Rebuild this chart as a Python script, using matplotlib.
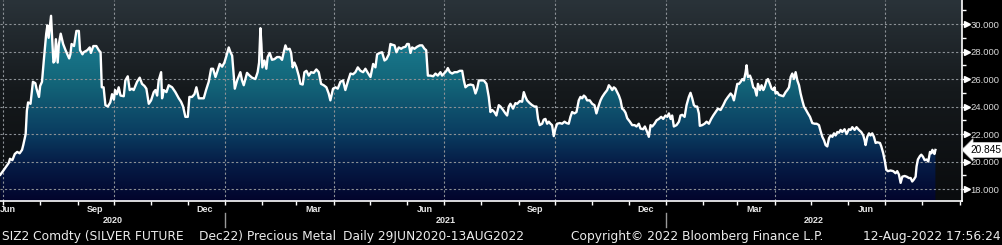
import numpy as np
import matplotlib
matplotlib.use("Agg")
import matplotlib.pyplot as plt
import matplotlib.dates as mdates
import pandas as pd
from matplotlib.colors import LinearSegmentedColormap
from matplotlib.patches import Polygon
from matplotlib.transforms import blended_transform_factory, ScaledTranslation
from matplotlib.lines import Line2D

# ---------------- data (days since 2020-06-29, price) ----------------
start_date = "2020-06-29"
days_a = [0, 3, 7, 8, 10, 12, 14, 16, 18, 19, 21, 22, 23, 25, 27, 29, 30, 32, 33, 34.5,
          36, 38, 39, 40, 42, 43, 44, 45, 46, 47.5, 48.5, 50, 52, 54, 57, 58, 59, 61, 63, 65,
          66, 68, 69, 72, 74, 75, 77, 79.5, 81.5, 83, 84, 85.5, 87, 89, 91, 92.5, 94, 95, 96.5, 98, 99.5]
price_a = [19.04, 19.4, 19.9, 20.2, 20.1, 20.55, 20.7, 20.6, 20.85, 21.2, 22.0, 23.7, 24.3, 24.2, 25.8, 25.7, 25.3, 24.7, 25.5, 25.8,
           27.35, 29.3, 29.9, 29.0, 30.6, 28.8, 27.2, 27.3, 28.9, 27.2, 28.55, 29.3, 28.55, 28.1, 27.5, 27.8, 28.55, 28.4, 29.5, 29.5,
           28.1, 27.8, 27.95, 28.1, 28.3, 27.9, 28.4, 28.4, 28.1, 27.95, 25.4, 25.4, 24.1, 24.0, 24.3, 24.9, 24.5, 25.2, 24.9, 25.4, 24.8]
days_b = [102.2, 103.5, 105.5, 107.1, 109, 110.4, 113.2, 115.4, 117.3, 119.3, 120.9, 122.9, 124.8, 127, 128.4, 129.8, 131.1, 133.1, 133.9, 135.3,
          137.5, 139.4, 142.2, 144.9, 147.7, 149.6, 151.3, 153.2, 155.2, 156.5, 158.7, 160.7, 162.3, 164.3, 165.6, 168.4, 170.3, 172.5, 174.5, 176.1,
          178.1, 180, 181.6, 183.6, 185.5, 187.2, 189.1, 190.5, 191.9, 194.1, 196]
price_b = [24.75, 25.9, 26.2, 25.2, 25.3, 25.2, 25.8, 26.1, 25.65, 25.5, 25.3, 24.2, 24.45, 25.05, 25.2, 24.8, 25.9, 26.5, 24.6, 25.2,
           25.05, 25.55, 25.4, 25.05, 24.6, 24.35, 24.0, 23.25, 23.25, 24.7, 24.7, 24.9, 25.4, 24.6, 24.6, 24.6, 25.2, 25.8, 26.75, 26.75,
           26.15, 26.65, 27.1, 26.9, 27.2, 27.7, 28.3, 27.95, 27.7, 25.3, 25.9]
days_c = [198.7, 200.1, 201.5, 204.2, 206.4, 208.4, 211.1, 213, 214.2, 215.3, 216.1, 216.9, 218.6, 220.2, 221.3, 223, 224.9, 226.9, 229.1, 231.3,
          233.2, 234.6, 236, 237.3, 239.5, 240.7, 242, 243.4, 245.1, 247, 248.4, 250.3, 251.7, 253.4, 255.3, 257.2, 259.4, 261.6, 263.6, 265.5,
          267.7, 269.9, 271.8, 273.2, 275.4, 277.4, 279.3, 281.5, 283.7, 285.6, 287.6, 289.8, 292, 293.9, 295.9]
price_c = [26.5, 25.9, 25.55, 26.45, 26.25, 26.1, 26.0, 26.5, 27.2, 29.7, 28.55, 26.85, 27.35, 26.75, 27.6, 27.9, 27.4, 27.45, 27.6, 27.6,
           27.4, 27.95, 28.45, 28.15, 28.2, 27.9, 26.85, 27.2, 26.85, 26.25, 25.65, 25.6, 26.5, 26.6, 26.25, 26.5, 26.45, 26.7, 26.5, 25.65,
           25.55, 25.4, 24.95, 24.45, 25.3, 25.4, 25.3, 25.8, 25.9, 25.2, 25.8, 26.4, 26.35, 26.5, 26.85]
days_d = [298.1, 300.3, 302.2, 304.2, 306.4, 308.6, 310.5, 311.9, 314.1, 316, 318, 319.6, 321.6, 322.9, 324.3, 326.3, 327.9, 329.8, 331.8, 333.4,
          335.4, 336.7, 338.1, 339.5, 340.9, 342.8, 345, 347.2, 349.2, 351.1, 352.5, 353.9, 356.1, 358.3, 360.2, 362.1, 364.3, 365.7, 367.7, 369.3,
          370.4, 372.1, 374, 375.9, 378.1, 380.3, 382.3, 383.7, 385, 387, 389.2, 391.4, 393.3, 394.7, 396.1]
price_d = [26.6, 26.5, 26.75, 26.45, 26.15, 27.1, 26.85, 27.8, 27.9, 27.95, 27.35, 27.45, 27.8, 28.55, 28.5, 28.45, 27.95, 28.3, 28.2, 28.3,
           28.35, 28.55, 28.55, 27.9, 28.3, 28.2, 28.35, 28.45, 28.45, 28.2, 28.1, 26.25, 26.25, 26.2, 26.4, 26.25, 26.5, 26.25, 26.45, 26.6,
           26.8, 26.5, 26.4, 26.5, 26.5, 26.6, 26.6, 25.9, 25.4, 25.55, 25.6, 25.55, 24.95, 25.3, 25.9]
days_e = [397.4, 400.2, 402.4, 404.3, 405.7, 407.1, 409, 410.6, 412.6, 414, 416.2, 418.1, 419.5, 420.9, 422.2, 424.4, 426.4, 427.8, 430, 431.9,
          433.3, 434.7, 436, 438.2, 440.2, 442.1, 443.8, 445.1, 446.5, 448.5, 449.8, 451.2, 452.6, 454, 455.4, 456.7, 458.1, 459.5, 460.9, 463.1,
          465, 467, 468.6, 470.5, 471.9, 473.3, 475.2, 476.9, 478.8, 480.2, 481.6, 483, 484.3, 485.7, 487.9, 489.9, 491.8, 493.4, 495.4]
price_e = [25.9, 25.9, 25.65, 24.7, 23.6, 23.75, 23.6, 23.35, 24.1, 24.0, 23.75, 23.5, 23.35, 24.0, 24.2, 23.85, 24.25, 24.2, 24.4, 24.35,
           25.05, 24.7, 24.45, 24.25, 24.1, 24.0, 24.0, 23.1, 22.65, 22.75, 23.05, 23.1, 22.75, 22.9, 22.75, 22.65, 21.85, 22.4, 22.75, 22.8,
           22.75, 22.9, 22.8, 22.75, 23.25, 23.6, 23.5, 23.6, 24.45, 24.7, 24.6, 24.8, 24.7, 24.45, 24.45, 24.2, 24.1, 23.5, 24.1]
days_f = [496.8, 498.2, 500.1, 502.3, 503.7, 505.1, 506.5, 507.8, 509.2, 510.6, 512, 513.4, 514.7, 516.1, 517.5, 518.9, 521.1, 523, 525, 526.6,
          528.5, 529.9, 532.1, 533.5, 535.4, 536.8, 538.2, 539.6, 541.5, 543.2, 545.1, 547, 548.7, 550.6, 552, 553.4, 554.8, 556.1, 557.5, 559.7,
          561.7, 563, 564.4, 566.4, 568, 569.9, 571.3, 572.7, 574.1, 575.5, 576.8, 578.2, 579, 581, 582.9, 584.6, 586.5, 588.4, 590.1, 592, 594]
price_f = [24.45, 24.7, 24.95, 25.2, 25.55, 25.4, 25.2, 25.4, 25.3, 25.05, 24.8, 24.45, 23.85, 23.75, 23.55, 23.15, 22.9, 22.65, 22.65, 22.55,
           22.75, 22.4, 22.35, 22.55, 22.15, 21.8, 22.65, 22.55, 22.75, 23.0, 23.1, 23.25, 23.1, 23.35, 23.25, 23.5, 23.1, 23.35, 22.55, 22.65,
           22.9, 23.35, 23.4, 23.25, 24.1, 24.7, 25.0, 24.6, 24.1, 24.0, 24.0, 23.5, 22.6, 22.65, 22.75, 22.9, 22.75, 23.1, 23.35, 23.6, 23.85]
days_g = [596.2, 598.4, 600.3, 602.3, 604.5, 605.9, 607.2, 608.6, 610, 611.4, 612.8, 614.1, 615.5, 616.9, 617.7, 618.8, 620.5, 621.6, 623.2, 624.6,
          626, 627.1, 628.8, 630.1, 631.5, 632.6, 634.3, 635.4, 637, 638.4, 639.8, 640.9, 641.7, 643.1, 644.5, 646.4, 648.1, 650, 651.4, 652.8,
          654.2, 655.5, 656.9, 658.3, 659.7, 661.1, 662.4, 663.8, 665.2, 666.6, 668.5, 670.2, 672.1, 674, 675.7, 677.6, 679, 680.4, 681.8, 683.1,
          684.5, 685.9, 687.3, 688.7, 690, 691.4, 692.8, 694.2]
price_g = [23.75, 24.1, 24.45, 24.7, 24.95, 24.8, 24.45, 25.05, 25.65, 25.65, 25.8, 26.0, 25.9, 26.5, 27.0, 26.15, 26.25, 26.0, 25.4, 25.3,
           24.8, 25.65, 25.2, 25.55, 25.2, 25.4, 25.9, 26.0, 25.65, 25.3, 25.2, 25.4, 24.95, 25.05, 24.85, 24.8, 24.75, 25.05, 25.2, 25.4,
           26.15, 26.4, 26.0, 26.5, 25.9, 25.55, 24.95, 24.45, 24.0, 23.8, 23.5, 23.25, 22.8, 22.75, 22.75, 22.65, 22.2, 21.8, 21.55, 21.2,
           21.1, 21.7, 21.9, 21.8, 22.05, 21.9, 22.15, 22.1]
days_h = [695.5, 696.9, 698.8, 700.5, 702.4, 703.8, 705.2, 707.1, 708.7, 710.7, 712.6, 714.3, 715.4, 716.2, 717.6, 719, 720.3, 721.7, 723.1, 724.5,
          725.9, 728.1, 729.2, 730.8, 732.2, 733.3, 734.7, 736.9, 739.1, 741, 742.4, 743.8, 745.2, 746.6, 748.5, 750.2, 752.1, 753.5, 754.8, 756.2,
          757.6, 758.4, 759.5, 761.2, 762.3, 763.7, 765.1, 766.7, 768.1, 769.5, 770.6, 771.5, 772.5, 773.2, 774]
price_h = [22.3, 22.15, 22.35, 22.0, 22.35, 22.3, 22.5, 22.3, 22.5, 22.3, 22.15, 21.9, 21.55, 21.2, 21.8, 22.05, 21.9, 22.05, 21.8, 21.35,
           21.4, 21.35, 21.1, 20.6, 20.0, 19.4, 19.3, 19.35, 19.3, 19.15, 19.3, 19.05, 18.45, 18.9, 18.95, 18.9, 18.8, 18.8, 18.55, 18.7,
           18.9, 19.65, 20.15, 20.4, 20.5, 20.35, 20.1, 20.15, 20.0, 20.7, 20.6, 20.85, 20.65, 20.55, 20.845]

last_value = 20.845
y_major = [18, 20, 22, 24, 26, 28, 30]
y_labels = ["18.000", "20.000", "22.000", "24.000", "26.000", "28.000", "30.000"]
month_labels = [("2020-06-15", "Jun"), ("2020-09-15", "Sep"), ("2020-12-15", "Dec"), ("2021-03-15", "Mar"),
                ("2021-06-15", "Jun"), ("2021-09-15", "Sep"), ("2021-12-15", "Dec"), ("2022-03-15", "Mar"),
                ("2022-06-15", "Jun")]
year_labels = [("2020", "2020-06-29", "2021-01-01"), ("2021", "2021-01-01", "2022-01-01"),
               ("2022", "2022-01-01", "2022-09-03")]
footer = [("SIZ2 Comdty (SILVER FUTURE", 2, "left"), ("Dec22) Precious Metal", 199, "left"),
          ("Daily 29JUN2020-13AUG2022", 343, "left"),
          ("Copyright\u00a9 2022 Bloomberg Finance L.P.", 571, "left"),
          ("12-Aug-2022 17:56:24", 1001, "right")]

pairs = [(days_a, price_a), (days_b, price_b), (days_c, price_c), (days_d, price_d),
         (days_e, price_e), (days_f, price_f), (days_g, price_g), (days_h, price_h)]
for i, (d, p) in enumerate(pairs):
    assert len(d) == len(p), (i, len(d), len(p))
days = np.concatenate([np.asarray(d, float) for d, _ in pairs])
price = np.concatenate([np.asarray(p, float) for _, p in pairs])
dates = pd.Timestamp(start_date) + pd.to_timedelta(days, unit="D")
x = mdates.date2num(dates.to_pydatetime())

# ---------------- figure ----------------
W, H = 1003, 245
fig = plt.figure(figsize=(W / 100, H / 100), dpi=100, facecolor="black")
ax_right_px, ax_bottom_px = 962, 201
ax = fig.add_axes([0, 1 - ax_bottom_px / H, ax_right_px / W, ax_bottom_px / H])
ax.set_facecolor("black")

xmin = mdates.date2num(pd.Timestamp("2020-06-28 18:00"))
xmax = mdates.date2num(pd.Timestamp("2022-09-03"))
ymin, ymax = 17.13, 31.75
ax.set_xlim(xmin, xmax)
ax.set_ylim(ymin, ymax)

grad = np.linspace(0, 1, 256).reshape(-1, 1)
bg_cmap = LinearSegmentedColormap.from_list("bg", [(0, "#0a0c0e"), (0.55, "#15191c"), (1, "#2a3339")])
ax.imshow(grad, extent=[xmin, xmax, ymin, ymax], origin="lower", aspect="auto", cmap=bg_cmap, zorder=0)

def frac(v):
    return (v - ymin) / (ymax - ymin)

fill_cmap = LinearSegmentedColormap.from_list(
    "fill", [(0, "#02042c"), (frac(20), "#061e48"), (frac(22), "#0a3c60"), (frac(25.7), "#136579"), (1, "#1f8ea2")])
im = ax.imshow(grad, extent=[xmin, xmax, ymin, ymax], origin="lower", aspect="auto", cmap=fill_cmap, zorder=1)
verts = [(x[0], ymin)] + list(zip(x, price)) + [(x[-1], ymin)]
poly = Polygon(verts, closed=True, facecolor="none", edgecolor="none")
ax.add_patch(poly)
im.set_clip_path(poly)

ax.plot(x, price, color="white", lw=1.7, zorder=4, solid_joinstyle="round")

# grid
grid_kw = dict(color="#8c9196", lw=0.8, dashes=(2, 2), zorder=2)
for yv in y_major:
    ax.axhline(yv, **grid_kw)
for q in pd.date_range("2020-07-01", "2022-07-01", freq="QS"):
    ax.axvline(mdates.date2num(q), **grid_kw)

# spines
for s in ["top", "left"]:
    ax.spines[s].set_visible(False)
for s in ["bottom", "right"]:
    ax.spines[s].set_color("white")
    ax.spines[s].set_linewidth(1.2)
    ax.spines[s].set_zorder(5)

# y axis on right
ax.yaxis.tick_right()
ax.set_yticks(y_major)
ax.set_yticklabels(y_labels)
ax.set_yticks(np.arange(19, 32, 2), minor=True)
ax.tick_params(axis="y", which="major", direction="out", length=3, width=1, color="white",
               pad=3.2, labelsize=6.8, labelcolor="#d9d9d9")
ax.tick_params(axis="y", which="minor", direction="out", length=3, width=1, color="white")
for lab in ax.get_yticklabels():
    lab.set_fontfamily("Liberation Sans")
tri_tr = blended_transform_factory(ax.transAxes, ax.transData) + ScaledTranslation(5.5 / 100, 0, fig.dpi_scale_trans)
ax.plot([1.0] * len(y_major), y_major, linestyle="none", marker=">", ms=4.5, color="white",
        transform=tri_tr, clip_on=False, zorder=6)

# x axis month ticks
ax.set_xticks(mdates.date2num(pd.date_range("2020-07-01", "2022-09-01", freq="MS").to_pydatetime()))
ax.set_xticklabels([])
ax.tick_params(axis="x", which="major", direction="out", length=3, width=1, color="white")

xt = blended_transform_factory(ax.transData, fig.transFigure)
for i, (d, lab) in enumerate(month_labels):
    xv = mdates.date2num(pd.Timestamp(d))
    if xv < xmin:
        ax.text(xmin, 1 - 209 / H, lab, transform=xt, ha="left", va="center", fontsize=6.5,
                fontweight="bold", color="#e6e6e6", family="Liberation Sans")
    else:
        ax.text(xv, 1 - 209 / H, lab, transform=xt, ha="center", va="center", fontsize=6.5,
                fontweight="bold", color="#e6e6e6", family="Liberation Sans")
for lab, a, b in year_labels:
    xa = max(mdates.date2num(pd.Timestamp(a)), xmin)
    xb = min(mdates.date2num(pd.Timestamp(b)), xmax)
    ax.text((xa + xb) / 2, 1 - 220.5 / H, lab, transform=xt, ha="center", va="center", fontsize=6.5,
            fontweight="bold", color="#e6e6e6", family="Liberation Sans")
for d in ["2021-01-01", "2022-01-01"]:
    xv = mdates.date2num(pd.Timestamp(d))
    ax.add_line(Line2D([xv, xv], [1 - 213 / H, 1 - 227 / H], transform=xt, color="#9a9a9a", lw=1, clip_on=False))

# last price tag
pt = blended_transform_factory(fig.transFigure, ax.transData)
ax.text(970 / W, last_value, f"{last_value:.3f}", transform=pt, ha="left", va="center", fontsize=7.3,
        color="black", family="Liberation Sans", zorder=7,
        bbox=dict(boxstyle="larrow,pad=0.25", fc="white", ec="#cccccc", lw=0.5))

# footer
for txt, px, ha in footer:
    fig.text(px / W, 1 - 236.5 / H, txt, ha=ha, va="center", fontsize=8.8, color="#ececec", family="DejaVu Sans")

fig.savefig("out.png", dpi=100, facecolor="black")
